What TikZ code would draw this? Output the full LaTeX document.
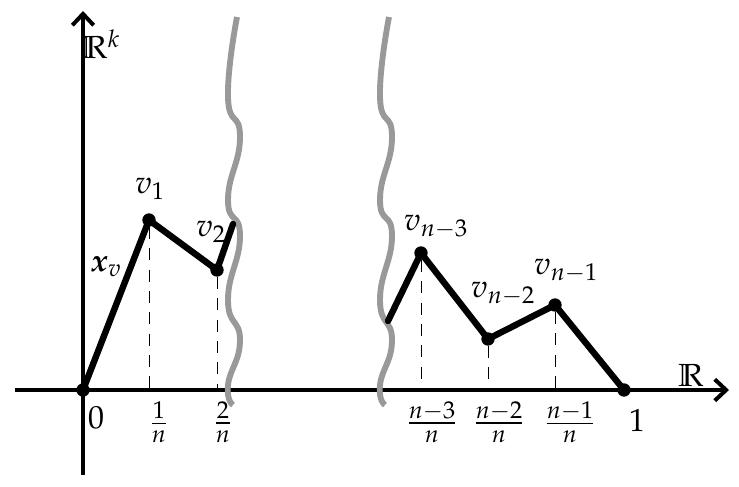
\documentclass[tikz,border=0pt]{standalone}
\usepackage{amsmath,amssymb}
\usepackage{mathpazo}
\usetikzlibrary{arrows.meta}
\begin{document}
\begin{tikzpicture}[x=0.75pt,y=-0.75pt,
  axis/.style={line width=3pt,-{Straight Barb[length=8.5pt,width=16pt,line width=3pt]}},
  curve/.style={line width=4.8pt,line join=round,line cap=round},
  dot/.style={circle,fill=black,inner sep=0pt,minimum size=10pt},
  drop/.style={line width=0.75pt,dash pattern=on 9pt off 7pt},
  wave/.style={line width=4.4pt,color=black!40},
  lab/.style={inner sep=0pt,font=\fontsize{24}{28}\selectfont},
  tick/.style={inner sep=0pt,font=\fontsize{24}{28}\selectfont}]
\useasboundingbox (0,0) rectangle (739,486);
% axes
\coordinate (xs) at (15,390);
\coordinate (xe) at (729,390);
\coordinate (ys) at (83,475);
\coordinate (ye) at (83,11);
\draw[axis] (xs) -- (xe);
\draw[axis] (ys) -- (ye);
% wavy cut lines
\foreach \dx in {232,384}{
  \draw[wave,xshift=\dx*0.75pt] plot[smooth,tension=0.9] coordinates {
    (5,17) (-4,97) (8,137) (-4,200) (8,236) (-4,300) (8,340) (-4,385) (1,405)};
}
% points
\node[dot] (O) at (83,390) {};
\node[dot] (v1) at (149,220) {};
\node[dot] (v2) at (217,270) {};
\coordinate (c1) at (233,224);
\coordinate (c2) at (388,321);
\node[dot] (w3) at (421,253) {};
\node[dot] (w2) at (488,339) {};
\node[dot] (w1) at (555,305) {};
\node[dot] (one) at (624,390) {};
\draw[curve] (O.center) -- (v1.center) -- (v2.center) -- (c1);
\draw[curve] (c2) -- (w3.center) -- (w2.center) -- (w1.center) -- (one.center);
% drops
\coordinate (a1) at (149,390);
\coordinate (a2) at (217,390);
\coordinate (a3) at (421,390);
\coordinate (a4) at (488,390);
\coordinate (a5) at (555,390);
\draw[drop] (v1) -- (a1);
\draw[drop] (v2) -- (a2);
\draw[drop] (w3) -- (a3);
\draw[drop] (w2) -- (a4);
\draw[drop] (w1) -- (a5);
% labels
\node[lab] (lRk) at (101,44) {$\mathbb{R}^k$};
\node[lab] (lR) at (691,375) {$\mathbb{R}$};
\node[lab] (lv1) at (150,189) {$v_1$};
\node[lab] (lv2) at (211,232) {$v_2$};
\node[lab] (lxv) at (106,267) {$\boldsymbol{x}_v$};
\node[lab] (lw3) at (436,227) {$v_{n-3}$};
\node[lab] (lw2) at (503,294) {$v_{n-2}$};
\node[lab] (lw1) at (566,271) {$v_{n-1}$};
\node[tick] (t0) at (96,418) {$0$};
\node[tick] (t1) at (637,420) {$1$};
\node[tick] (f1) at (159,422) {$\frac{1}{n}$};
\node[tick] (f2) at (223,422) {$\frac{2}{n}$};
\node[tick] (f3) at (432,422) {$\frac{n-3}{n}$};
\node[tick] (f4) at (499,422) {$\frac{n-2}{n}$};
\node[tick] (f5) at (570,422) {$\frac{n-1}{n}$};
\end{tikzpicture}
\end{document}
